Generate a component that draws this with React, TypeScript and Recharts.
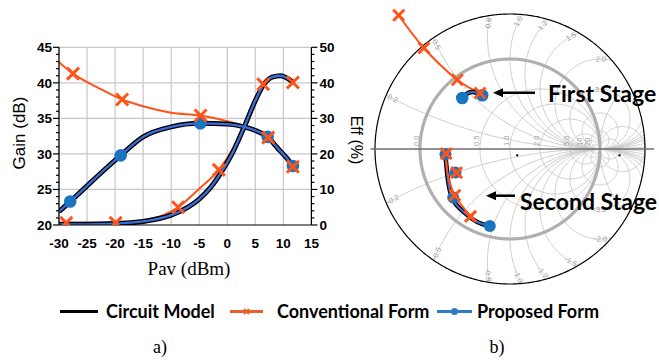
import React from "react";
import { ComposedChart, Line, Scatter, XAxis, YAxis, CartesianGrid, ReferenceLine } from "recharts";

// ---------- a) gain / efficiency vs available power ----------
const pavTicks = [-30, -25, -20, -15, -10, -5, 0, 5, 10, 15];
const gainTicks = [20, 21, 22, 23, 24, 25, 26, 27, 28, 29, 30, 31, 32, 33, 34, 35, 36, 37, 38, 39, 40, 41, 42, 43, 44, 45];
const gainGrid = [25, 30, 35, 40, 45];
const effTicks = [0, 2, 4, 6, 8, 10, 12, 14, 16, 18, 20, 22, 24, 26, 28, 30, 32, 34, 36, 38, 40, 42, 44, 46, 48, 50];

// circuit model (the proposed form follows it)
const modelGainPav = [-30, -28, -25, -22, -19, -15, -10, -5, 0, 3, 5, 7.2, 9, 10.5, 11.7];
const modelGain = [21.9, 23.3, 25.5, 27.7, 29.8, 32.4, 33.8, 34.3, 34.2, 33.8, 33.3, 32.4, 30.8, 29.5, 28.3];
const modelEffPav = [-30, -25, -20, -15, -10, -7, -5, -3, -1, 1, 3, 5, 6.5, 8, 9.5, 11, 11.7];
const modelEff = [0.2, 0.2, 0.4, 1.0, 2.8, 5.0, 7.3, 10.5, 15, 20.5, 27.5, 35, 39.5, 41.6, 42, 41, 40.2];

// proposed form markers
const propGainPav = [-28, -19, -4.8, 7.2, 11.7];
const propGain = [23.3, 29.8, 34.3, 32.4, 28.3];

// conventional form
const convGainPav = [-30, -27.5, -23, -18.75, -15, -10, -4.75, 0, 3, 5, 7.3, 9, 10.5, 11.7];
const convGain = [42.9, 41.3, 39.3, 37.65, 36.7, 35.8, 35.4, 34.6, 33.9, 33.3, 32.3, 30.8, 29.4, 28.2];
const convGainMarkPav = [-27.5, -18.75, -4.75, 7.3, 11.7];
const convGainMark = [41.3, 37.65, 35.4, 32.3, 28.2];
const convEffPav = [-30, -28.7, -19.9, -14, -8.75, -5, -1.5, 1, 3, 5, 6.4, 8, 9.5, 11.7];
const convEff = [0.5, 0.6, 0.6, 1.6, 5.0, 10.2, 15.5, 21.5, 28.3, 35.5, 39.6, 41.5, 41.7, 40.1];
const convEffMarkPav = [-28.7, -19.9, -8.75, -1.5, 6.4, 11.7];
const convEffMark = [0.6, 0.6, 5.0, 15.5, 39.6, 40.1];

// ---------- b) smith chart trajectories (reflection coefficient) ----------
const s1ConvRe = [-1.237, -0.956, -0.586, -0.333];
const s1ConvIm = [1.486, 1.122, 0.769, 0.622];
const s1ModelRe = [-0.531, -0.46, -0.39, -0.309];
const s1ModelIm = [0.567, 0.625, 0.63, 0.597];
const s1PropRe = [-0.531, -0.309];
const s1PropIm = [0.567, 0.597];
const s2ModelRe = [-0.717, -0.698, -0.669, -0.606, -0.494, -0.364, -0.224];
const s2ModelIm = [-0.07, -0.273, -0.459, -0.607, -0.718, -0.811, -0.856];
const s2PropRe = [-0.717, -0.606, -0.631, -0.224];
const s2PropIm = [-0.059, -0.262, -0.54, -0.856];
const s2ConvLineRe = [-0.709, -0.695, -0.613, -0.439];
const s2ConvLineIm = [-0.051, -0.26, -0.514, -0.748];
const s2ConvMarkRe = [-0.709, -0.594, -0.613, -0.439];
const s2ConvMarkIm = [-0.051, -0.262, -0.514, -0.748];

const resistances = [0.5, 1, 2, 5, 10, 20];
const negResistances = [-2, -5, -10];
const reactances = [0.2, 0.5, 0.8, 1, 1.2, 1.5, 2, 3, 5, 10];
const resLabels = ["0.0", "0.5", "1.0", "2.0", "5.0", "10", "20"];
const resLabelValues = [0, 0.5, 1, 2, 5, 10, 20];
const reactLabelValues = [0.2, 0.5, 0.8, 1, 1.2, 1.5, 2, 3];

const ORANGE = "#ff531a";
const BLUE_LINE = "#3a6fd8";
const BLUE_DOT = "#1a75c0";
const FONT = "'Liberation Sans', Arial, sans-serif";
const R_OUT = 1.5;

const pts = (xs: number[], ys: number[]) => xs.map((x, i) => ({ x, y: ys[i] }));

const XMark = (props: any) => {
  const { cx, cy } = props;
  const h = props.h ?? 5.5;
  return (
    <g stroke={ORANGE} strokeWidth={3} strokeLinecap="butt">
      <line x1={cx - h} y1={cy - h} x2={cx + h} y2={cy + h} />
      <line x1={cx - h} y1={cy + h} x2={cx + h} y2={cy - h} />
    </g>
  );
};
const Dot = (props: any) => <circle cx={props.cx} cy={props.cy} r={props.r ?? 6.3} fill={BLUE_DOT} />;

const LeftTick = (props: any) => {
  const { x, y, payload } = props;
  const v = payload.value;
  const major = v % 5 === 0;
  return (
    <g>
      <line x1={x} x2={x - (major ? 6 : 3)} y1={y} y2={y} stroke="#000" strokeWidth={1.2} />
      {major && (
        <text x={x - 7} y={y} dy={4.8} textAnchor="end" fontSize={13.5} fontWeight="bold" fontFamily={FONT} fill="#000">
          {v}
        </text>
      )}
    </g>
  );
};
const RightTick = (props: any) => {
  const { x, y, payload } = props;
  const v = payload.value;
  const major = v % 10 === 0;
  return (
    <g>
      <line x1={x} x2={x + (major ? 6 : 3)} y1={y} y2={y} stroke="#000" strokeWidth={1.2} />
      {major && (
        <text x={x + 8} y={y} dy={4.8} textAnchor="start" fontSize={13.5} fontWeight="bold" fontFamily={FONT} fill="#000">
          {v}
        </text>
      )}
    </g>
  );
};

function GainChart() {
  return (
    <ComposedChart width={370} height={260} margin={{ top: 47.3, right: 0, bottom: 0, left: 0 }}>
      <CartesianGrid horizontal={false} stroke="#c8c8c8" strokeWidth={1.2} />
      <XAxis
        type="number"
        dataKey="x"
        domain={[-30, 15]}
        ticks={pavTicks}
        interval={0}
        allowDataOverflow
        height={35}
        tickLine={false}
        tickSize={0}
        tickMargin={13}
        axisLine={{ stroke: "#000", strokeWidth: 1.2 }}
        tick={{ fontSize: 13.5, fontWeight: "bold", fill: "#000", fontFamily: FONT }}
      />
      <YAxis
        yAxisId="gain"
        dataKey="y"
        domain={[20, 45]}
        ticks={gainTicks}
        interval={0}
        allowDataOverflow
        width={59}
        tickLine={false}
        tickSize={0}
        tickMargin={0}
        axisLine={{ stroke: "#000", strokeWidth: 1.2 }}
        tick={(p: any) => <LeftTick {...p} />}
      />
      <YAxis
        yAxisId="eff"
        orientation="right"
        dataKey="y"
        domain={[0, 50]}
        ticks={effTicks}
        interval={0}
        allowDataOverflow
        width={58.6}
        tickLine={false}
        tickSize={0}
        tickMargin={0}
        axisLine={{ stroke: "#000", strokeWidth: 1.2 }}
        tick={(p: any) => <RightTick {...p} />}
      />
      {gainGrid.map((g) => (
        <ReferenceLine key={g} yAxisId="gain" y={g} stroke="#c8c8c8" strokeWidth={1.2} />
      ))}

      <Line yAxisId="gain" data={pts(convGainPav, convGain)} dataKey="y" type="monotone" stroke={ORANGE} strokeWidth={2} dot={false} activeDot={false} isAnimationActive={false} />
      <Line yAxisId="eff" data={pts(convEffPav, convEff)} dataKey="y" type="monotone" stroke={ORANGE} strokeWidth={2} dot={false} activeDot={false} isAnimationActive={false} />

      <Line yAxisId="gain" data={pts(modelGainPav, modelGain)} dataKey="y" type="monotone" stroke="#000" strokeWidth={5} dot={false} activeDot={false} isAnimationActive={false} />
      <Line yAxisId="eff" data={pts(modelEffPav, modelEff)} dataKey="y" type="monotone" stroke="#000" strokeWidth={5} dot={false} activeDot={false} isAnimationActive={false} />
      <Line yAxisId="gain" data={pts(modelGainPav, modelGain)} dataKey="y" type="monotone" stroke={BLUE_LINE} strokeWidth={2.3} dot={false} activeDot={false} isAnimationActive={false} />
      <Line yAxisId="eff" data={pts(modelEffPav, modelEff)} dataKey="y" type="monotone" stroke={BLUE_LINE} strokeWidth={2.3} dot={false} activeDot={false} isAnimationActive={false} />

      <Scatter yAxisId="gain" data={pts(propGainPav, propGain)} dataKey="y" shape={<Dot />} isAnimationActive={false} />
      <Scatter yAxisId="gain" data={pts(convGainMarkPav, convGainMark)} dataKey="y" shape={<XMark h={6} />} isAnimationActive={false} />
      <Scatter yAxisId="eff" data={pts(convEffMarkPav, convEffMark)} dataKey="y" shape={<XMark h={6} />} isAnimationActive={false} />
    </ComposedChart>
  );
}

// ---------- smith chart grid geometry ----------
function circlePts(cu: number, cv: number, rad: number) {
  const n = Math.max(240, Math.min(2400, Math.round(rad * 480)));
  const out: { x: number; y: number | null }[] = [];
  for (let i = 0; i <= n; i++) {
    const t = (2 * Math.PI * i) / n;
    const u = cu + rad * Math.cos(t);
    const v = cv + rad * Math.sin(t);
    out.push({ x: u, y: u * u + v * v <= R_OUT * R_OUT + 1e-6 ? v : null });
  }
  return out;
}

const gridCircles: { key: string; data: { x: number; y: number | null }[] }[] = [];
resistances.concat(negResistances).forEach((r) => {
  gridCircles.push({ key: "r" + r, data: circlePts(r / (1 + r), 0, 1 / Math.abs(1 + r)) });
});
reactances.forEach((xv) => {
  gridCircles.push({ key: "x" + xv, data: circlePts(1, 1 / xv, 1 / xv) });
  gridCircles.push({ key: "x-" + xv, data: circlePts(1, -1 / xv, 1 / xv) });
});

function reactLabel(xv: number) {
  const k = 1 / xv;
  const R = 1.42;
  const a = (R * R + 1) / 2;
  const disc = 4 * a * a * k * k - 4 * (1 + k * k) * (a * a - R * R);
  let u: number, v: number;
  if (disc >= 0) {
    const v1 = (2 * a * k + Math.sqrt(disc)) / (2 * (1 + k * k));
    const v2 = (2 * a * k - Math.sqrt(disc)) / (2 * (1 + k * k));
    v = Math.abs(v1) > Math.abs(v2) ? v1 : v2;
    u = a - k * v;
  } else {
    u = 1;
    v = 2 * k;
  }
  const dx = u - 1;
  const dy = -(v - k);
  let ang = (Math.atan2(dx, -dy) * 180) / Math.PI;
  if (ang > 90) ang -= 180;
  if (ang <= -90) ang += 180;
  return { x: u, y: v, ang, label: (xv < 0 ? "-" : "") + Math.abs(xv).toFixed(1) };
}
const reactLabelPts = reactLabelValues.flatMap((xv) => [reactLabel(xv), reactLabel(-xv)]);
const resLabelPts = resLabelValues.map((r, i) => ({ x: (r - 1) / (r + 1), y: 0, label: resLabels[i] }));

const ResLabel = (props: any) => {
  const { cx, cy, payload } = props;
  const x = cx - 1.5;
  const y = cy - 3;
  return (
    <text x={x} y={y} transform={`rotate(-90 ${x} ${y})`} fontSize={7.5} fill="#9a9a9a" fontFamily={FONT}>
      {payload.label}
    </text>
  );
};
const ReactLabel = (props: any) => {
  const { cx, cy, payload } = props;
  return (
    <text x={cx} y={cy} dy={2.5} textAnchor="middle" transform={`rotate(${payload.ang} ${cx} ${cy})`} fontSize={7.5} fill="#9a9a9a" fontFamily={FONT}>
      {payload.label}
    </text>
  );
};
const TinyDot = (props: any) => <rect x={props.cx - 1} y={props.cy - 1} width={2} height={2} fill="#000" />;

const smithMarks = [
  { x: 0.08, y: -0.07 },
  { x: 1.217, y: -0.07 },
];

function SmithChart() {
  const line = (data: any[], stroke: string, w: number, type: any = "linear") => (
    <Line data={data} dataKey="y" type={type} stroke={stroke} strokeWidth={w} dot={false} activeDot={false} isAnimationActive={false} />
  );
  return (
    <ComposedChart width={288} height={288} margin={{ top: 0, right: 0, bottom: 0, left: 0 }}>
      <XAxis type="number" dataKey="x" domain={[-1.6, 1.6]} hide allowDataOverflow />
      <YAxis type="number" dataKey="y" domain={[-1.6, 1.6]} hide allowDataOverflow />
      {gridCircles.map((c) => (
        <Line key={c.key} data={c.data} dataKey="y" type="linear" stroke="#c6c6c6" strokeWidth={0.9} dot={false} activeDot={false} isAnimationActive={false} />
      ))}
      {line(circlePts(0, 0, 1), "#b0b0b0", 3.2)}
      {line(circlePts(0, 0, R_OUT), "#000", 1.2)}
      {line([{ x: -1.55, y: 0 }, { x: 1.6, y: 0 }], "#6e6e6e", 1.5)}
      <Scatter data={resLabelPts} dataKey="y" shape={<ResLabel />} isAnimationActive={false} />
      <Scatter data={reactLabelPts} dataKey="y" shape={<ReactLabel />} isAnimationActive={false} />
      <Scatter data={smithMarks} dataKey="y" shape={<TinyDot />} isAnimationActive={false} />

      {line(pts(s1ConvRe, s1ConvIm), ORANGE, 2, "natural")}
      {line(pts(s1ModelRe, s1ModelIm), "#000", 4.5, "natural")}
      {line(pts(s1ModelRe, s1ModelIm), BLUE_LINE, 2, "natural")}
      {line(pts(s2ModelRe, s2ModelIm), "#000", 4.5, "natural")}
      {line(pts(s2ModelRe, s2ModelIm), BLUE_LINE, 2, "natural")}
      {line(pts(s2ConvLineRe, s2ConvLineIm), ORANGE, 2, "natural")}

      <Scatter data={pts(s1PropRe, s1PropIm)} dataKey="y" shape={<Dot r={6.3} />} isAnimationActive={false} />
      <Scatter data={pts(s2PropRe, s2PropIm)} dataKey="y" shape={<Dot r={6} />} isAnimationActive={false} />
      <Scatter data={pts(s1ConvRe, s1ConvIm)} dataKey="y" shape={<XMark h={5.5} />} isAnimationActive={false} />
      <Scatter data={pts(s2ConvMarkRe, s2ConvMarkIm)} dataKey="y" shape={<XMark h={5.5} />} isAnimationActive={false} />
    </ComposedChart>
  );
}

export default function App() {
  const legendFont = { fontFamily: "Lato, 'Open Sans', sans-serif", fontWeight: 700, fontSize: 18 };
  return (
    <div style={{ position: "absolute", left: 0, top: 0, width: 659, height: 362, background: "#fff", overflow: "hidden" }}>
      <div style={{ position: "absolute", left: 0, top: 0 }}>
        <GainChart />
      </div>
      <div style={{ position: "absolute", left: 365.5, top: 4.7 }}>
        <SmithChart />
      </div>
      <svg width={659} height={362} style={{ position: "absolute", left: 0, top: 0, pointerEvents: "none" }}>
        <text x={19.5} y={133} transform="rotate(-90 19.5 133)" textAnchor="middle" dominantBaseline="central" fontSize={17} fontFamily={FONT}>
          Gain (dB)
        </text>
        <text x={356.7} y={140} transform="rotate(90 356.7 140)" textAnchor="middle" dominantBaseline="central" fontSize={16} fontFamily={FONT}>
          Eff (%)
        </text>
        <text x={189} y={268} textAnchor="middle" dominantBaseline="central" fontSize={19} fontFamily="'Liberation Serif', serif">
          Pav (dBm)
        </text>

        <line x1={535} y1={92.7} x2={500} y2={92.7} stroke="#000" strokeWidth={2.5} />
        <polygon points="493,92.7 503,88.2 503,97.2" fill="#000" />
        <text x={548} y={92.7} dominantBaseline="central" {...legendFont} fontSize={23}>
          First Stage
        </text>
        <line x1={515} y1={195.7} x2={493} y2={195.7} stroke="#000" strokeWidth={2.5} />
        <polygon points="486,195.7 496,191.2 496,200.2" fill="#000" />
        <text x={520} y={201} dominantBaseline="central" {...legendFont} fontSize={23}>
          Second Stage
        </text>

        <line x1={60} y1={311.5} x2={98} y2={311.5} stroke="#000" strokeWidth={3} />
        <text x={106} y={310.7} dominantBaseline="central" {...legendFont}>
          Circuit Model
        </text>
        <line x1={230} y1={311.5} x2={263} y2={311.5} stroke="#e8602c" strokeWidth={3} />
        <g stroke="#e8602c" strokeWidth={2}>
          <line x1={244} y1={309} x2={249} y2={314} />
          <line x1={244} y1={314} x2={249} y2={309} />
        </g>
        <text x={277} y={310.7} dominantBaseline="central" {...legendFont}>
          Conventional Form
        </text>
        <line x1={437} y1={311.5} x2={472} y2={311.5} stroke="#2f7bc6" strokeWidth={3} />
        <circle cx={454.5} cy={311.5} r={3.6} fill="#2f7bc6" />
        <text x={477} y={310.7} dominantBaseline="central" {...legendFont}>
          Proposed Form
        </text>

        <text x={160} y={347} textAnchor="middle" dominantBaseline="central" fontSize={18} fontFamily="'Liberation Serif', serif">
          a)
        </text>
        <text x={497} y={347} textAnchor="middle" dominantBaseline="central" fontSize={18} fontFamily="'Liberation Serif', serif">
          b)
        </text>
      </svg>
    </div>
  );
}
